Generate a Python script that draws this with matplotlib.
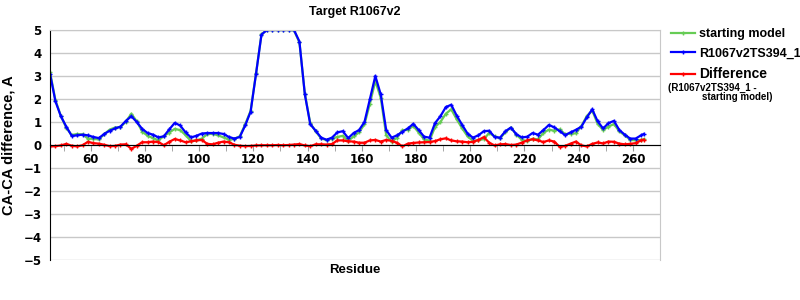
import matplotlib
matplotlib.use('Agg')
import matplotlib.pyplot as plt
from matplotlib.ticker import MultipleLocator

residues = list(range(45, 264, 2)) + [264]

starting_model = [
    3.18, 1.95, 1.27, 0.75, 0.43, 0.48, 0.46, 0.28, 0.27, 0.24,
    0.47, 0.67, 0.76, 0.78, 1.02, 1.36, 1.03, 0.58, 0.40, 0.30,
    0.20, 0.39, 0.54, 0.70, 0.65, 0.43, 0.17, 0.20, 0.28, 0.47,
    0.49, 0.42, 0.33, 0.23, 0.27, 0.38, 0.90, 1.49, 3.12, 4.81,
    5.0, 5.0, 5.0, 5.0, 5.0, 4.98, 4.46, 2.22, 0.95, 0.59,
    0.29, 0.21, 0.28, 0.35, 0.40, 0.18, 0.37, 0.55, 0.90, 1.80,
    2.78, 2.05, 0.43, 0.14, 0.32, 0.64, 0.66, 0.83, 0.54, 0.24,
    0.19, 0.78, 1.00, 1.36, 1.55, 1.12, 0.73, 0.38, 0.18, 0.20,
    0.26, 0.52, 0.37, 0.29, 0.56, 0.76, 0.45, 0.23, 0.16, 0.27,
    0.25, 0.52, 0.67, 0.62, 0.68, 0.47, 0.49, 0.51, 0.82, 1.26,
    1.50, 0.92, 0.65, 0.80, 0.91, 0.59, 0.42, 0.23, 0.20, 0.22,
    0.25,
]

model_ts394 = [
    3.10, 1.90, 1.25, 0.80, 0.40, 0.42, 0.45, 0.42, 0.35, 0.30,
    0.48, 0.62, 0.72, 0.80, 1.05, 1.25, 1.00, 0.70, 0.52, 0.45,
    0.33, 0.38, 0.68, 0.96, 0.85, 0.55, 0.33, 0.40, 0.50, 0.52,
    0.52, 0.52, 0.48, 0.35, 0.28, 0.35, 0.85, 1.45, 3.10, 4.80,
    5.0, 5.0, 5.0, 5.0, 5.0, 5.0, 4.50, 2.20, 0.90, 0.62,
    0.32, 0.23, 0.32, 0.55, 0.60, 0.30, 0.52, 0.65, 1.00, 2.00,
    3.00, 2.20, 0.65, 0.32, 0.42, 0.58, 0.72, 0.92, 0.65, 0.36,
    0.32, 0.95, 1.25, 1.65, 1.75, 1.28, 0.88, 0.50, 0.32, 0.42,
    0.60, 0.62, 0.35, 0.32, 0.60, 0.76, 0.47, 0.33, 0.36, 0.52,
    0.45, 0.65, 0.87, 0.77, 0.60, 0.43, 0.55, 0.66, 0.80, 1.20,
    1.55, 1.03, 0.72, 0.95, 1.05, 0.65, 0.45, 0.28, 0.28, 0.42,
    0.48,
]

difference = [
    -0.06, -0.05, -0.02, 0.05, -0.03, -0.06, -0.01, 0.14, 0.08, 0.06,
    0.01, -0.05, -0.04, 0.02, 0.03, -0.17, -0.03, 0.12, 0.12, 0.15,
    0.13, -0.01, 0.14, 0.26, 0.20, 0.12, 0.16, 0.20, 0.22, 0.05,
    0.03, 0.10, 0.15, 0.12, 0.01, -0.03, -0.05, -0.04, -0.02, -0.01,
    -0.01, -0.01, 0.0, -0.01, 0.0, 0.02, 0.04, -0.02, -0.05, 0.03,
    0.03, 0.02, 0.04, 0.20, 0.20, 0.16, 0.15, 0.10, 0.10, 0.20,
    0.22, 0.15, 0.22, 0.18, 0.10, -0.06, 0.06, 0.09, 0.11, 0.12,
    0.13, 0.17, 0.25, 0.29, 0.20, 0.16, 0.15, 0.12, 0.14, 0.22,
    0.34, 0.10, -0.02, 0.03, 0.04, 0.0, 0.02, 0.10, 0.20, 0.25,
    0.20, 0.13, 0.20, 0.15, -0.08, -0.04, 0.06, 0.15, -0.02, -0.06,
    0.05, 0.11, 0.07, 0.15, 0.14, 0.06, 0.03, 0.05, 0.08, 0.20,
    0.23,
]

plt.rcParams['font.family'] = 'Liberation Sans'
plt.rcParams['font.weight'] = 'bold'

fig = plt.figure(figsize=(8, 3), dpi=100)
ax = fig.add_axes([0.0625, 0.1333, 0.7625, 0.7667])

ax.plot(residues, starting_model, color='#66cc55', lw=1.6, marker='+', ms=3,
        mew=1, label='starting model')
ax.plot(residues, model_ts394, color='#0000ff', lw=1.6, marker='+', ms=3,
        mew=1, label='R1067v2TS394_1')
ax.plot(residues, difference, color='#ff0000', lw=1.6, marker='+', ms=3,
        mew=1, label='Difference')

ax.set_xlim(45, 270)
ax.set_ylim(-5, 5)
ax.yaxis.set_major_locator(MultipleLocator(1))
ax.xaxis.set_minor_locator(MultipleLocator(10))
ax.set_xticks([60, 80, 100, 120, 140, 160, 180, 200, 220, 240, 260])
ax.grid(axis='y', color='#c8c8c8', lw=1)
ax.set_axisbelow(True)

ax.spines['bottom'].set_position(('data', 0))
ax.spines['bottom'].set_color('black')
ax.spines['left'].set_color('black')
ax.spines['top'].set_color('#c8c8c8')
ax.spines['right'].set_color('#c8c8c8')
ax.tick_params(axis='x', which='both', direction='out', colors='#999999',
               labelcolor='black', length=4, pad=2)
ax.tick_params(axis='y', length=0, pad=6)
for lab in ax.get_xticklabels() + ax.get_yticklabels():
    lab.set_fontfamily('DejaVu Sans')
    lab.set_fontsize(8.5)
    lab.set_fontweight('bold')

ax.set_title('Target R1067v2', fontsize=9, fontweight='bold', pad=11)
ax.set_ylabel('CA-CA difference, A', fontsize=10.5, fontweight='bold', labelpad=6)
ax.set_xlabel('Residue', fontsize=9.5, fontweight='bold')
ax.xaxis.set_label_coords(0.5, -0.017)

leg = ax.legend(loc='upper left', bbox_to_anchor=(1.0, 1.057), frameon=False,
                handlelength=1.9, handletextpad=0.3, labelspacing=0.6,
                prop={'family': 'Liberation Sans', 'weight': 'bold', 'size': 9})
leg.get_texts()[2].set_fontsize(10)
fig.text(0.835, 0.707, '(R1067v2TS394_1 -', fontsize=7, fontweight='bold',
         va='center')
fig.text(0.878, 0.677, 'starting model)', fontsize=7, fontweight='bold',
         va='center')

plt.savefig('out.png', dpi=100)
